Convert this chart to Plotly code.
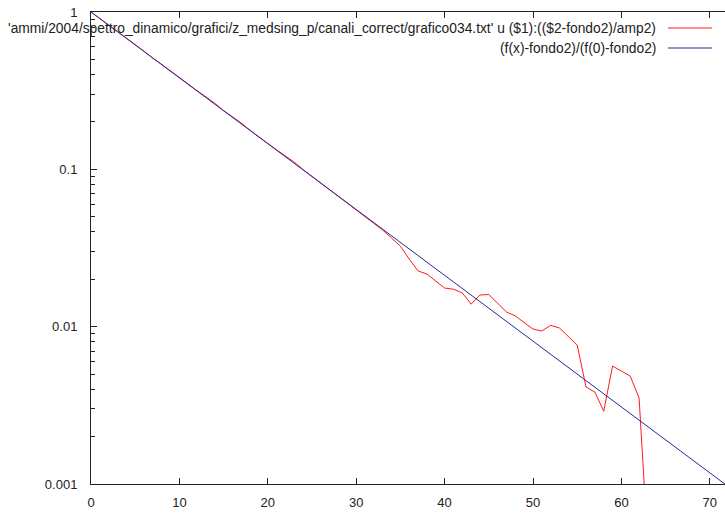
import plotly.graph_objects as go

# channel index and normalised amplitude ((counts - fondo2) / amp2)
channels = list(range(0, 64))
amplitude = [
    1.000, 0.905, 0.826, 0.752, 0.678, 0.620, 0.563, 0.508, 0.465, 0.421,
    0.383, 0.346, 0.316, 0.289, 0.263, 0.236, 0.215, 0.197, 0.177, 0.160,
    0.146, 0.133, 0.121, 0.111, 0.0995, 0.0902, 0.0818, 0.0745, 0.0676, 0.0612,
    0.0556, 0.0505, 0.0458, 0.0411, 0.0366, 0.0325, 0.0269, 0.0226, 0.0216, 0.0195,
    0.0176, 0.0173, 0.0164, 0.0139, 0.0159, 0.0160, 0.0141, 0.0124, 0.0117, 0.0107,
    0.00966, 0.00938, 0.0102, 0.0098, 0.0087, 0.00764, 0.00413, 0.00384, 0.00290, 0.00562,
    0.00522, 0.00485, 0.00352, 0.0004,
]

# normalised fit curve (f(x)-fondo2)/(f(0)-fondo2): a straight line on the log axis
fit_x = [0.0, 71.7]
fit_y = [1.0, 0.001]

legend_labels = [
    "'ammi/2004/spettro_dinamico/grafici/z_medsing_p/canali_correct/grafico034.txt' u ($1):(($2-fondo2)/amp2)",
    "(f(x)-fondo2)/(f(0)-fondo2)",
]
red = "#ff1a1a"
blue = "#28289a"
font_family = "Liberation Sans, Arial, sans-serif"

fig = go.Figure()
fig.add_trace(go.Scatter(x=channels, y=amplitude, mode="lines",
                         line=dict(color=red, width=1), cliponaxis=True))
fig.add_trace(go.Scatter(x=fit_x, y=fit_y, mode="lines",
                         line=dict(color=blue, width=1), cliponaxis=True))

W, H = 725, 514
ml, mr, mt, mb = 91, 0, 12, 30
pw, ph = W - ml - mr, H - mt - mb

def px(xp):
    return (xp - ml) / pw

def py(yp):
    return 1 - (yp - mt) / ph

# key: right-aligned text followed by a line sample
for label, col, ypix in zip(legend_labels, [red, blue], [28, 48]):
    fig.add_annotation(x=px(658), y=py(ypix), xref="paper", yref="paper",
                       text=label, showarrow=False, xanchor="right", yanchor="middle",
                       font=dict(family=font_family, size=13.8, color="#222"))
    fig.add_shape(type="line", xref="paper", yref="paper",
                  x0=px(668), x1=px(712), y0=py(ypix), y1=py(ypix),
                  line=dict(color=col, width=1))

fig.update_layout(
    width=W, height=H,
    margin=dict(l=ml, r=mr, t=mt, b=mb, pad=0),
    paper_bgcolor="white", plot_bgcolor="white",
    showlegend=False,
    font=dict(family=font_family, size=13, color="#222"),
)
fig.update_xaxes(
    range=[0, pw / 8.84], showgrid=False, zeroline=False,
    showline=True, linecolor="#222", linewidth=1, mirror="ticks",
    ticks="inside", ticklen=6, tickcolor="#222", tick0=0, dtick=10,
    ticklabelstandoff=6,
)
fig.update_yaxes(
    type="log", range=[-3, 0], showgrid=False, zeroline=False,
    showline=True, linecolor="#222", linewidth=1, mirror=False,
    ticks="inside", ticklen=6, tickcolor="#222",
    tickvals=[0.001, 0.01, 0.1, 1], ticktext=["0.001", "0.01", "0.1", "1"],
    minor=dict(ticks="inside", ticklen=4, tickcolor="#222", dtick="D1", showgrid=False),
    ticklabelstandoff=10,
)

fig.write_html("out.html")
